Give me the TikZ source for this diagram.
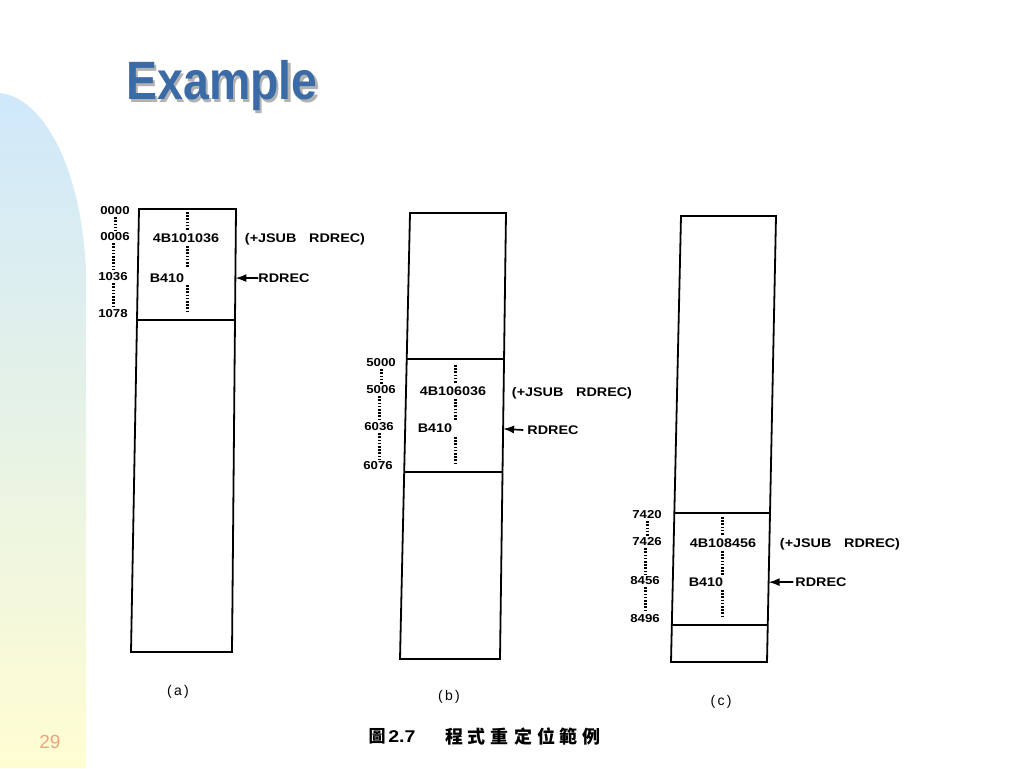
\documentclass[tikz,border=0pt]{standalone}
\usepackage{fontspec}
\usepackage{graphicx}
\setmainfont{Liberation Sans}
\newfontfamily\cjk{Noto Sans CJK TC}
\usetikzlibrary{calc,arrows.meta}
\definecolor{titleblue}{HTML}{3A6BA6}
\definecolor{bgblue}{HTML}{CFE8FA}
\definecolor{bggreen}{HTML}{E4F3E6}
\definecolor{bgyellow}{HTML}{FFFDD2}
\definecolor{pagenum}{HTML}{F2A27C}
\newcommand\widetext[1]{\scalebox{1.15}[1]{#1}}
\begin{document}
\begin{tikzpicture}[x=1pt,y=-1pt,
  box/.style={draw=black,line width=1.8pt},
  lab/.style={font=\fontsize{11.5}{13}\selectfont\bfseries,inner sep=0pt},
  txt/.style={font=\fontsize{12.5}{14}\selectfont\bfseries,inner sep=0pt},
  dots/.style={line width=3pt,dash pattern=on 1.6pt off 1.6pt,shorten <=2pt,shorten >=2pt},
  idots/.style={line width=3pt,dash pattern=on 1.6pt off 1.6pt},
  ptr/.style={line width=1.7pt,-{Latex[length=11pt,width=8pt]}},
  capt/.style={font=\fontsize{14}{16}\selectfont,inner sep=0pt}]
\useasboundingbox (0,0) rectangle (1024,768);
% background decoration
\shade[top color=bgblue,middle color=bggreen,bottom color=bgyellow]
  (0,93) .. controls (40,97) and (80,160) .. (86,268) -- (86,768) -- (0,768) -- cycle;
% title
\node[font=\fontsize{54}{60}\selectfont\bfseries,text=black!30,inner sep=0pt] (titleshadow) at (224.5,88.5) {\scalebox{0.86}[1]{Example}};
\node[font=\fontsize{54}{60}\selectfont\bfseries,text=titleblue,inner sep=0pt] (title) at (222,86) {\scalebox{0.86}[1]{Example}};
% page number
\node[text=pagenum,font=\fontsize{19}{22}\selectfont,inner sep=0pt] (pg) at (50,742) {29};

% ---------- panel (a)
\coordinate (aTL) at (139,209); \coordinate (aTR) at (236,209);
\coordinate (aBL) at (131,652); \coordinate (aBR) at (232,652);
\draw[box] (aTL) -- (aTR) -- (aBR) -- (aBL) -- cycle;
\draw[box] ($(aTL)!0.25!(aBL)$) -- ($(aTR)!0.25!(aBR)$);
\node[lab] (a0) at (115,211) {\widetext{0000}};
\node[lab] (a1) at (115,237) {\widetext{0006}};
\node[lab] (a2) at (113,277) {\widetext{1036}};
\node[lab] (a3) at (113,314) {\widetext{1078}};
\draw[dots] (a0.south) -- (a0.south |- a1.north);
\draw[dots] (a2.north |- a1.south) -- (a2.north);
\draw[dots] (a2.south) -- (a3.north);
\node[txt] (ai1) at (186,238) {\widetext{4B101036}};
\node[txt] (ai2) at (167,278) {\widetext{B410}};
\draw[idots] (187,212) -- (187,230);
\draw[idots] (187,246) -- (187,267);
\draw[idots] (187,285) -- (187,313);
\node[txt] (aj) at (305,239) {\widetext{(+JSUB\hspace{11pt}RDREC)}};
\node[txt] (ar) at (284,278) {\widetext{RDREC}};
\coordinate (aR) at ($(aTR)!0.156!(aBR)$);
\draw[ptr] (ar.west) -- (aR);
\node[capt] (acap) at (178,692) {(\,a\,)};

% ---------- panel (b)
\coordinate (bTL) at (410,213); \coordinate (bTR) at (506,213);
\coordinate (bBL) at (400,659); \coordinate (bBR) at (500,659);
\draw[box] (bTL) -- (bTR) -- (bBR) -- (bBL) -- cycle;
\draw[box] ($(bTL)!0.327!(bBL)$) -- ($(bTR)!0.327!(bBR)$);
\draw[box] ($(bTL)!0.581!(bBL)$) -- ($(bTR)!0.581!(bBR)$);
\node[lab] (b0) at (381,363) {\widetext{5000}};
\node[lab] (b1) at (381,390) {\widetext{5006}};
\node[lab] (b2) at (379,427) {\widetext{6036}};
\node[lab] (b3) at (378,466) {\widetext{6076}};
\draw[dots] (b0.south) -- (b0.south |- b1.north);
\draw[dots] (b2.north |- b1.south) -- (b2.north);
\draw[dots] (b2.south) -- (b2.south |- b3.north);
\node[txt] (bi1) at (453,391) {\widetext{4B106036}};
\node[txt] (bi2) at (435,428) {\widetext{B410}};
\draw[idots] (455,365) -- (455,383);
\draw[idots] (455,399) -- (455,420);
\draw[idots] (455,437) -- (455,463);
\node[txt] (bj) at (572,393) {\widetext{(+JSUB\hspace{11pt}RDREC)}};
\node[txt] (br) at (553,430) {\widetext{RDREC}};
\coordinate (bR) at ($(bTR)!0.484!(bBR)$);
\draw[ptr] ($(br.west)+(-4,0)$) -- (bR);
\node[capt] (bcap) at (449,697) {(\,b\,)};

% ---------- panel (c)
\coordinate (cTL) at (681,216); \coordinate (cTR) at (776,216);
\coordinate (cBL) at (671,662); \coordinate (cBR) at (767,662);
\draw[box] (cTL) -- (cTR) -- (cBR) -- (cBL) -- cycle;
\draw[box] ($(cTL)!0.666!(cBL)$) -- ($(cTR)!0.666!(cBR)$);
\draw[box] ($(cTL)!0.917!(cBL)$) -- ($(cTR)!0.917!(cBR)$);
\node[lab] (c0) at (647,515) {\widetext{7420}};
\node[lab] (c1) at (647,542) {\widetext{7426}};
\node[lab] (c2) at (645,581) {\widetext{8456}};
\node[lab] (c3) at (645,619) {\widetext{8496}};
\draw[dots] (c0.south) -- (c0.south |- c1.north);
\draw[dots] (c2.north |- c1.south) -- (c2.north);
\draw[dots] (c2.south) -- (c3.north);
\node[txt] (ci1) at (723,543) {\widetext{4B108456}};
\node[txt] (ci2) at (706,582) {\widetext{B410}};
\draw[idots] (722,517) -- (722,535);
\draw[idots] (722,551) -- (722,575);
\draw[idots] (722,590) -- (722,618);
\node[txt] (cj) at (840,544) {\widetext{(+JSUB\hspace{11pt}RDREC)}};
\node[txt] (cr) at (821,582) {\widetext{RDREC}};
\coordinate (cR) at ($(cTR)!0.821!(cBR)$);
\draw[ptr] ($(cr.west)+(-2,0)$) -- (cR);
\node[capt] (ccap) at (721,702) {(\,c\,)};

% ---------- figure caption
\node[inner sep=0pt,font=\fontsize{17}{20}\selectfont\bfseries] (fig) at (392,736) {{\cjk 圖}\,\widetext{2.7}};
\node[inner sep=0pt,font=\fontsize{18}{20}\selectfont\bfseries\cjk] (figtitle) at (523,736)
  {程\hspace{5pt}式\hspace{5pt}重\hspace{5pt}定\hspace{5pt}位\hspace{5pt}範\hspace{5pt}例};
\end{tikzpicture}
\end{document}
